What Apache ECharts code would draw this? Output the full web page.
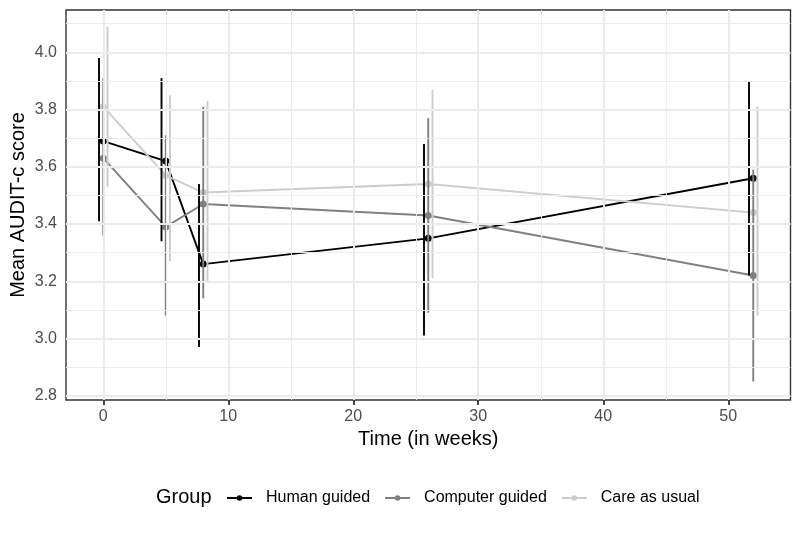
<!DOCTYPE html>
<html>
<head>
<meta charset="utf-8">
<script src="https://cdn.jsdelivr.net/npm/echarts@6/dist/echarts.min.js"></script>
<style>html,body{margin:0;padding:0;background:#fff}#c{width:800px;height:533px}</style>
</head>
<body>
<div id="c"></div>
<script>
const weeks = [0, 5, 8, 26, 52];
const groups = ['Human guided', 'Computer guided', 'Care as usual'];
const humanMean = [3.69, 3.62, 3.26, 3.35, 3.56];
const humanLower = [3.41, 3.34, 2.97, 3.01, 3.22];
const humanUpper = [3.98, 3.91, 3.54, 3.68, 3.90];
const computerMean = [3.63, 3.39, 3.47, 3.43, 3.22];
const computerLower = [3.36, 3.08, 3.14, 3.09, 2.85];
const computerUpper = [3.91, 3.71, 3.81, 3.77, 3.59];
const careMean = [3.81, 3.57, 3.51, 3.54, 3.44];
const careLower = [3.53, 3.27, 3.20, 3.21, 3.08];
const careUpper = [4.09, 3.85, 3.83, 3.87, 3.81];
const xTicks = [0, 10, 20, 30, 40, 50];
const xMinor = [5, 15, 25, 35, 45];
const yTicks = [2.8, 3.0, 3.2, 3.4, 3.6, 3.8, 4.0];
const yMinor = [2.9, 3.1, 3.3, 3.5, 3.7, 3.9, 4.1];

const colors = ['#000000', '#808080', '#cccccc'];
const means = [humanMean, computerMean, careMean];
const lowers = [humanLower, computerLower, careLower];
const uppers = [humanUpper, computerUpper, careUpper];
const dodge = [-0.34, 0, 0.34];
const FONT = 'Liberation Sans, Arial, sans-serif';

const chart = echarts.init(document.getElementById('c'), null, {renderer: 'canvas'});

const gridLines = [];
xTicks.forEach(v => gridLines.push({xAxis: v, lineStyle: {width: 1.9}}));
xMinor.forEach(v => gridLines.push({xAxis: v, lineStyle: {width: 0.95}}));
yTicks.forEach(v => gridLines.push({yAxis: v, lineStyle: {width: 1.9}}));
yMinor.forEach(v => gridLines.push({yAxis: v, lineStyle: {width: 0.95}}));

const series = [{
  name: 'gridlines', type: 'line', data: [], z: 1, silent: true,
  markLine: {silent: true, symbol: ['none', 'none'], label: {show: false},
    lineStyle: {color: '#ebebeb', type: 'solid'}, emphasis: {disabled: true},
    animation: false, data: gridLines}
}];
groups.forEach((g, i) => {
  series.push({
    name: g, type: 'line', z: 2,
    data: weeks.map((w, k) => [w, means[i][k]]),
    symbol: 'circle', symbolSize: 7,
    itemStyle: {color: colors[i], borderWidth: 0},
    lineStyle: {color: colors[i], width: 1.9},
    emphasis: {disabled: true}
  });
});
groups.forEach((g, i) => {
  series.push({
    name: g + ' CI', type: 'custom', z: 3,
    data: weeks.map((w, k) => [w, lowers[i][k], uppers[i][k]]),
    encode: {x: 0, y: [1, 2]},
    renderItem: function (params, api) {
      const x = api.value(0) + dodge[i];
      const p1 = api.coord([x, api.value(1)]);
      const p2 = api.coord([x, api.value(2)]);
      return {type: 'line', shape: {x1: p1[0], y1: p1[1], x2: p2[0], y2: p2[1]},
        style: {stroke: colors[i], lineWidth: 1.9}};
    }
  });
});

chart.setOption({
  animation: false,
  backgroundColor: '#ffffff',
  grid: {left: 66, right: 9.5, top: 10, bottom: 133, show: true, containLabel: false,
    outerBoundsMode: 'none',
    borderColor: '#333333', borderWidth: 1.4, backgroundColor: 'transparent'},
  xAxis: {
    type: 'value', min: -2.98, max: 54.98,
    name: 'Time (in weeks)', nameLocation: 'middle', nameGap: 29, nameMoveOverlap: false,
    nameTextStyle: {fontFamily: FONT, fontSize: 20, color: '#000000'},
    axisLine: {show: false},
    axisTick: {show: true, length: 5, customValues: xTicks, lineStyle: {color: '#333333', width: 1.8}},
    axisLabel: {customValues: xTicks, margin: 9, fontFamily: FONT, fontSize: 16, color: '#4d4d4d',
      formatter: v => String(v)},
    splitLine: {show: false}
  },
  yAxis: {
    type: 'value', min: 2.785, max: 4.148,
    name: 'Mean AUDIT-c score', nameLocation: 'middle', nameGap: 38, nameRotate: 90,
    nameMoveOverlap: false,
    nameTextStyle: {fontFamily: FONT, fontSize: 20, color: '#000000'},
    axisLine: {show: false},
    axisTick: {show: true, length: 5, customValues: yTicks, lineStyle: {color: '#333333', width: 1.8}},
    axisLabel: {customValues: yTicks, margin: 9, fontFamily: FONT, fontSize: 16, color: '#4d4d4d',
      formatter: v => v.toFixed(1)},
    splitLine: {show: false}
  },
  legend: {
    data: groups, left: 226, top: 490, padding: 0, itemWidth: 25, itemHeight: 7, itemGap: 14,
    textStyle: {fontFamily: FONT, fontSize: 16, color: '#000000', padding: [0, 0, 0, 9]},
    selectedMode: false
  },
  graphic: [{
    type: 'text', left: 156, top: 487,
    style: {text: 'Group', font: '20px ' + FONT, fill: '#000000'}
  }],
  series: series
});
</script>
</body>
</html>
